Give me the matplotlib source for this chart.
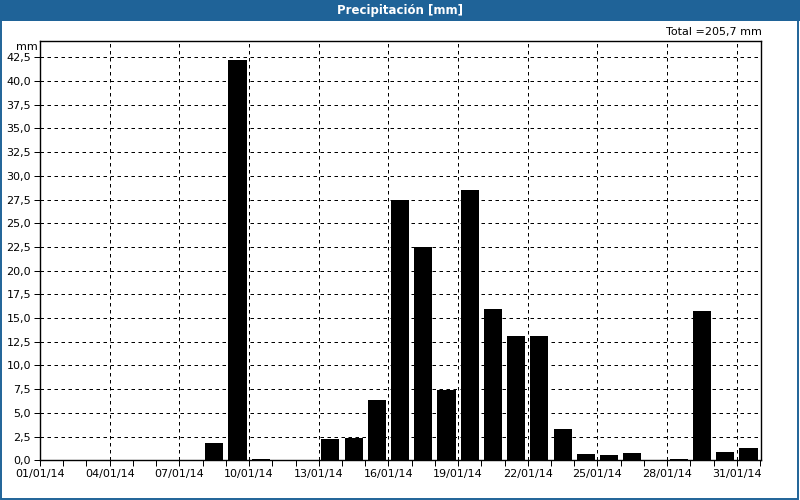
import matplotlib
matplotlib.use("Agg")
import matplotlib.pyplot as plt
from matplotlib.patches import Rectangle
from matplotlib.ticker import MultipleLocator, FixedLocator, FuncFormatter

# ---- data ----
days = list(range(1, 32))
precip = [0, 0, 0, 0, 0, 0, 0, 1.8, 42.2, 0.1,
          0, 0, 2.2, 2.4, 6.4, 27.5, 22.5, 7.4, 28.5, 16.0,
          13.1, 13.1, 3.3, 0.7, 0.6, 0.8, 0, 0.1, 15.8, 0.9, 1.3]
tick_days = [1, 4, 7, 10, 13, 16, 19, 22, 25, 28, 31]
tick_labels = ["%02d/01/14" % d for d in tick_days]
title = "Precipitación [mm]"
total_text = "Total =205,7 mm"
y_unit = "mm"

BLUE = "#1f6398"
LW = 0.72  # one pixel at 100 dpi

fig = plt.figure(figsize=(8, 5), dpi=100)
fig.patch.set_facecolor("white")

# title bar and window border
fig.patches.append(Rectangle((0, 0.958), 1, 0.042, transform=fig.transFigure,
                             facecolor=BLUE, edgecolor="none", zorder=0))
fig.patches.append(Rectangle((0.001, 0.003), 0.997, 0.996, transform=fig.transFigure,
                             facecolor="none", edgecolor=BLUE, lw=1.4, zorder=0))
fig.text(0.5, 0.979, title, color="white", fontsize=8.5, fontweight="bold",
         ha="center", va="center")

ax = fig.add_axes([0.05, 0.0794, 0.901, 0.8392])
x = [d - 1 + 0.5 for d in days]
ax.bar(x, precip, width=0.78, color="black", zorder=3)

ax.set_xlim(0, 31.03)
ax.set_ylim(0, 44.26)

ax.yaxis.set_major_locator(MultipleLocator(2.5))
ax.yaxis.set_major_formatter(FuncFormatter(lambda v, p: ("%.1f" % v).replace(".", ",")))
ax.xaxis.set_major_locator(FixedLocator([d - 1 for d in tick_days]))
ax.set_xticklabels(tick_labels)
ax.xaxis.set_minor_locator(MultipleLocator(1))

ax.tick_params(axis="both", which="both", direction="out", length=4, width=LW,
               labelsize=8, color="black", labelcolor="black", pad=2.5)
ax.tick_params(axis="x", which="minor", length=4)

ax.grid(True, which="major", color="black", linestyle=(0, (3.5, 3.5)), linewidth=LW, zorder=1)
ax.set_axisbelow(True)
for s in ax.spines.values():
    s.set_color("black")
    s.set_linewidth(LW * 1.4)

fig.text(0.0475, 0.907, y_unit, fontsize=8, ha="right", va="center")
fig.text(0.952, 0.935, total_text, fontsize=8, ha="right", va="center")

fig.savefig("out.png", dpi=100)
